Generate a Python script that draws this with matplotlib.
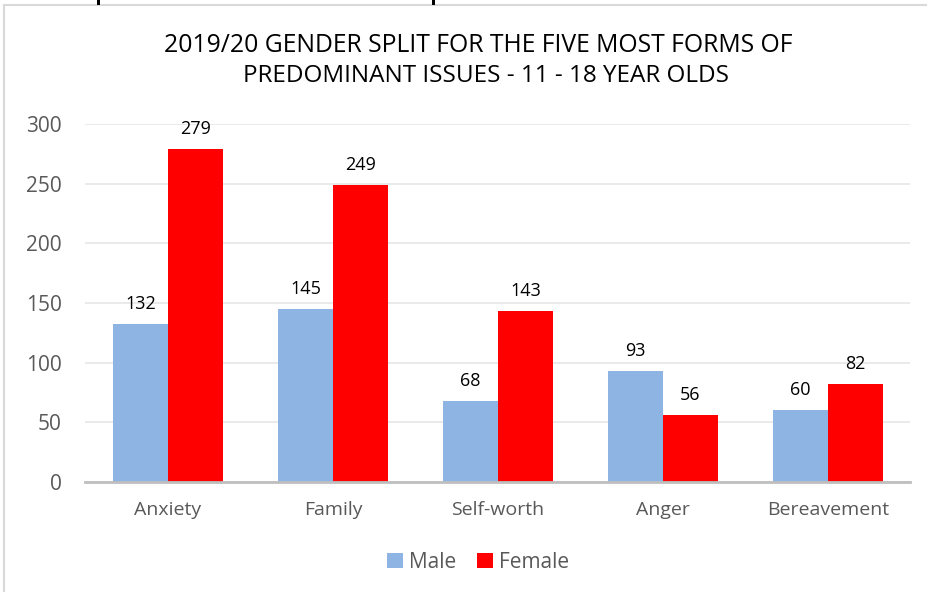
import matplotlib
matplotlib.use("Agg")
import matplotlib.pyplot as plt
from matplotlib.patches import Rectangle
import numpy as np

categories = ["Anxiety", "Family", "Self-worth", "Anger", "Bereavement"]
male = [132, 145, 68, 93, 60]
female = [279, 249, 143, 56, 82]
series_names = ["Male", "Female"]
yticks = [0, 50, 100, 150, 200, 250, 300]
title_lines = ["2019/20 GENDER SPLIT FOR THE FIVE MOST FORMS OF",
               "PREDOMINANT ISSUES - 11 - 18 YEAR OLDS"]

W, H = 928, 592
plt.rcParams['font.family'] = ['Open Sans', 'DejaVu Sans']
fig = plt.figure(figsize=(W/100, H/100), dpi=100)
fig.patch.set_facecolor("white")

# chart border (cropped on right and bottom)
fig.patches.append(Rectangle((4/W, -0.1), 1.2, (H-5)/H + 0.1, transform=fig.transFigure,
                             fill=False, edgecolor="#D9D9D9", linewidth=1.5))
# stray marks at top edge
for xm in [97, 432]:
    fig.patches.append(Rectangle((xm/W, (H-5)/H), 3/W, 5/H, transform=fig.transFigure,
                                 facecolor="black", edgecolor="none"))

left, right, top, bottom = 85.5, 910.5, 124, 482
ax = fig.add_axes([left/W, (H-bottom)/H, (right-left)/W, (bottom-top)/H])
x = np.arange(len(categories))
bw = 1/3
c_male = "#8DB4E2"
c_female = "#FF0000"
b1 = ax.bar(x - bw/2, male, bw, color=c_male, label=series_names[0], zorder=3)
b2 = ax.bar(x + bw/2, female, bw, color=c_female, label=series_names[1], zorder=3)

for bars, vals in [(b1, male), (b2, female)]:
    for rect, v in zip(bars, vals):
        ax.annotate(str(v), (rect.get_x() + rect.get_width()/2, v),
                    xytext=(0, 8), textcoords="offset points",
                    ha="center", va="bottom", fontsize=13, color="black")

ax.set_xlim(-0.5, len(categories) - 0.5)
ax.set_ylim(0, 300)
ax.set_yticks(yticks)
ax.set_yticklabels([str(t) for t in yticks])
ax.set_xticks(x)
ax.set_xticklabels(categories)
ax.tick_params(axis="y", length=0, pad=17, labelsize=15, labelcolor="#595959")
ax.tick_params(axis="x", length=0, pad=14, labelsize=14, labelcolor="#595959")
ax.yaxis.grid(True, color="#E6E6E6", linewidth=1.2, zorder=0)
ax.set_axisbelow(True)
for s in ["top", "right", "left"]:
    ax.spines[s].set_visible(False)
ax.spines["bottom"].set_color("#BFBFBF")
ax.spines["bottom"].set_linewidth(2)
ax.spines["bottom"].set_zorder(4)

fig.text(478/W, 1 - 46/H, title_lines[0], ha="center", va="center", fontsize=17.8, color="black")
fig.text(486/W, 1 - 76/H, title_lines[1], ha="center", va="center", fontsize=17.5, color="black")

leg = fig.legend(handles=[b1, b2], labels=series_names, loc="center", bbox_to_anchor=(478/W, 1 - 562/H),
                 ncol=2, frameon=False, fontsize=15, handlelength=0.75, handleheight=0.75,
                 handletextpad=0.3, columnspacing=1.0)
for t in leg.get_texts():
    t.set_color("#595959")

fig.savefig("out.png", dpi=100, facecolor="white")
